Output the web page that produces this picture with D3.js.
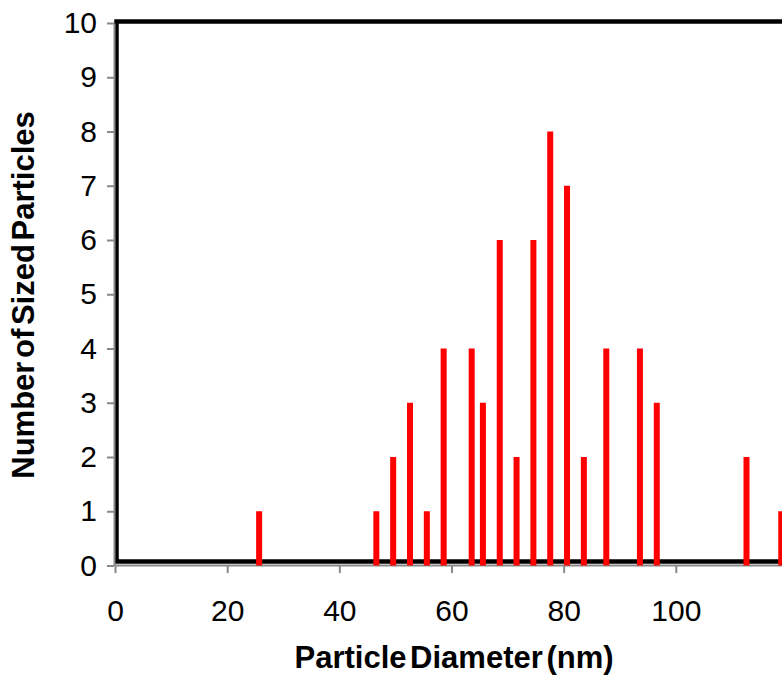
<!DOCTYPE html>
<html>
<head>
<meta charset="utf-8">
<script src="https://cdn.jsdelivr.net/npm/d3@7"></script>
<style>
  html, body { margin: 0; padding: 0; background: #fff; }
  svg { display: block; font-family: "Liberation Sans", Arial, sans-serif; }
</style>
</head>
<body>
<div id="chart"></div>
<script>
// particle diameters (nm) and counts
const diameters = [25.7, 46.6, 49.6, 52.6, 55.6, 58.6, 63.6, 65.6, 68.6, 71.6, 74.6, 77.6, 80.6, 83.6, 87.6, 93.6, 96.6, 112.6, 118.8];
const counts = [1, 1, 2, 3, 1, 4, 4, 3, 6, 2, 6, 8, 7, 2, 4, 4, 3, 2, 1];
const xTicks = [0, 20, 40, 60, 80, 100];
const yTicks = [0, 1, 2, 3, 4, 5, 6, 7, 8, 9, 10];

const W = 782, H = 678;
const svg = d3.select('#chart').append('svg')
    .attr('width', W).attr('height', H);

const x = d3.scaleLinear().domain([0, 120]).range([115, 788]);
const y = d3.scaleLinear().domain([0, 10]).range([565.5, 23]);

// plot frame (thick black, runs off the right edge)
svg.append('rect')
    .attr('x', 116.5).attr('y', 21.5)
    .attr('width', 700).attr('height', 540)
    .attr('fill', 'none')
    .attr('stroke', '#000')
    .attr('stroke-width', 4.5);

// axes
const yAxis = svg.append('g')
    .attr('transform', 'translate(114,0)')
    .call(d3.axisLeft(y).tickValues(yTicks).tickSize(7).tickPadding(10).tickSizeOuter(0));

const xAxis = svg.append('g')
    .attr('transform', 'translate(0,565)')
    .call(d3.axisBottom(x).tickValues(xTicks).tickSize(8).tickPadding(27).tickSizeOuter(0));

[yAxis, xAxis].forEach(a => {
    a.select('.domain').attr('stroke', '#888').attr('stroke-width', 2);
    a.selectAll('.tick line').attr('stroke', '#888').attr('stroke-width', 2);
    a.selectAll('.tick text')
        .attr('fill', '#000')
        .style('font-size', '30px')
        .style('font-family', '"Liberation Sans", Arial, sans-serif');
});

// bars
const data = diameters.map((d, i) => ({ d, n: counts[i] }));
const barW = 6;
svg.append('g').selectAll('rect')
    .data(data)
    .join('rect')
    .attr('x', d => x(d.d) - barW / 2)
    .attr('width', barW)
    .attr('y', d => y(d.n))
    .attr('height', d => y(0) - y(d.n))
    .attr('fill', '#ff0000');

// axis titles
svg.append('text')
    .attr('x', 454).attr('y', 668)
    .attr('text-anchor', 'middle')
    .attr('font-size', '31px')
    .attr('font-weight', 'bold')
    .attr('word-spacing', '-5px')
    .text('Particle Diameter (nm)');

svg.append('text')
    .attr('transform', 'translate(34,295) rotate(-90)')
    .attr('text-anchor', 'middle')
    .attr('font-size', '31px')
    .attr('font-weight', 'bold')
    .attr('word-spacing', '-5px')
    .text('Number of Sized Particles');
</script>
</body>
</html>
